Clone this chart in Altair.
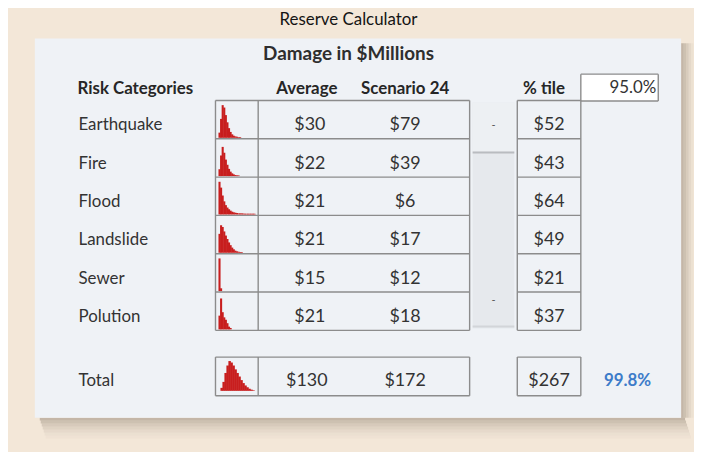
import altair as alt
import pandas as pd

# ---------------- data ----------------
title_text = "Reserve Calculator"
subtitle_text = "Damage in $Millions"
header_labels = ["Risk Categories", "Average", "Scenario 24", "% tile"]
percentile_level = "95.0%"

categories = ["Earthquake", "Fire", "Flood", "Landslide", "Sewer", "Polution"]
average = [30, 22, 21, 21, 15, 21]
scenario = [79, 39, 6, 17, 12, 18]
percentile = [52, 43, 64, 49, 21, 37]

total_label = "Total"
total_average = 130
total_scenario = 172
total_percentile = 267
total_confidence = "99.8%"

# sparkline histograms (relative bar heights)
hist_earthquake = [0.15, 0.55, 0.95, 0.88, 0.66, 0.45, 0.28, 0.17, 0.1, 0.06, 0.04, 0.03, 0.02, 0.02]
hist_fire = [0.2, 0.6, 0.85, 0.68, 0.48, 0.33, 0.21, 0.13, 0.08, 0.05, 0.03, 0.02, 0.02]
hist_flood = [0.95, 0.78, 0.55, 0.38, 0.27, 0.2, 0.15, 0.11, 0.08, 0.06, 0.05, 0.04, 0.03,
              0.03, 0.03, 0.025, 0.02, 0.02, 0.02, 0.02, 0.02, 0.02, 0.02]
hist_landslide = [0.55, 0.8, 0.75, 0.62, 0.5, 0.4, 0.3, 0.22, 0.15, 0.1, 0.06, 0.04, 0.03, 0.02, 0.02]
hist_sewer = [0.95, 0.08]
hist_polution = [0.4, 0.9, 0.5, 0.35, 0.28, 0.18, 0.08, 0.04]
hist_total = [0.1, 0.3, 0.6, 0.85, 1.0, 0.95, 0.85, 0.72, 0.6, 0.48, 0.36, 0.26, 0.18, 0.12, 0.07, 0.04, 0.02]
histograms = [hist_earthquake, hist_fire, hist_flood, hist_landslide, hist_sewer, hist_polution]

# ---------------- layout (page pixel frame) ----------------
W, H = 686, 444
X0, Y0 = 8, 8
ROW_TOP, ROW_H = 99.5, 38.6
TOT_TOP, TOT_BOT = 358, 397
C_SPARK, C_VAL, C_SCROLL, C_PCT, C_END = 217, 260, 473, 521, 585
X_LABEL, X_AVG, X_SCN, X_PCT = 79, 312, 408, 553
FONT = "Lato"
TXT = "#333333"
LINE = "#8c8c8c"
RED = "#c81e1e"
BEIGE = "#f3e7d8"
PANEL = "#eff2f6"

xs = alt.Scale(domain=[X0, X0 + W], nice=False, zero=False)
ys = alt.Scale(domain=[Y0, Y0 + H], nice=False, zero=False, reverse=True)

# ---- rectangles (shadows, panel, boxes) ----
rects = []
def rect(x, x2, y, y2, fill, op=1.0):
    rects.append(dict(x=x, x2=x2, y=y, y2=y2, fill=fill, op=op))

shadow = "#7d6f60"
for i, op in enumerate([0.40, 0.32, 0.24, 0.17, 0.11, 0.06, 0.03]):
    rect(40 + i, 690 + i, 419 + 3 * i, 422 + 3 * i, shadow, op)
for i, op in enumerate([0.40, 0.32, 0.22, 0.12, 0.05]):
    rect(686 + 2.5 * i, 688.5 + 2.5 * i, 42, 419, shadow, op)
rect(35, 686, 37, 419, PANEL)
# percentile input box
rect(585, 663, 73, 100, "#ffffff")
# scrollbar
rect(C_SCROLL + 3, C_PCT - 3, ROW_TOP + 2, ROW_TOP + 6 * ROW_H - 2, "#e6e9ed")
rect(C_SCROLL + 3, C_PCT - 3, ROW_TOP + 2, 151, "#edf0f3")

rect_df = pd.DataFrame(rects)
rect_layer = alt.Chart(rect_df).mark_rect().encode(
    x=alt.X("x:Q", scale=xs, axis=None), x2="x2:Q",
    y=alt.Y("y:Q", scale=ys, axis=None), y2="y2:Q",
    color=alt.Color("fill:N", scale=None),
    opacity=alt.Opacity("op:Q", scale=None),
)

# ---- histogram sparklines ----
bars = []
row_bottoms = [ROW_TOP + (i + 1) * ROW_H for i in range(6)]
BW = 1.6
for hist, bot in zip(histograms, row_bottoms):
    for j, h in enumerate(hist):
        bars.append(dict(x=220 + j * BW, x2=220 + (j + 1) * BW + 0.5,
                         y=bot - 1 - h * (ROW_H - 4), y2=bot - 1))
BWT = 2.0
for j, h in enumerate(hist_total):
    bars.append(dict(x=222 + j * BWT, x2=222 + (j + 1) * BWT + 0.5,
                     y=TOT_BOT - 5 - h * 30, y2=TOT_BOT - 5))
bar_layer = alt.Chart(pd.DataFrame(bars)).mark_rect(color=RED, strokeWidth=0).encode(
    x=alt.X("x:Q", scale=xs, axis=None), x2="x2:Q",
    y=alt.Y("y:Q", scale=ys, axis=None), y2="y2:Q",
)

# ---- grid lines ----
lines = []
def line(x, x2, y, y2, col=LINE, w=1.4):
    lines.append(dict(x=x, x2=x2, y=y, y2=y2, col=col, w=w))

ROW_BOT = ROW_TOP + 6 * ROW_H
for i in range(7):
    yy = ROW_TOP + i * ROW_H
    line(C_SPARK, C_SCROLL, yy, yy)
    line(C_PCT, C_END, yy, yy)
for xx in [C_SPARK, C_VAL, C_SCROLL, C_PCT, C_END]:
    line(xx, xx, ROW_TOP, ROW_BOT)
line(C_SCROLL + 3, C_PCT - 3, 152, 152, "#b9bcc0", 2)
line(C_SCROLL + 3, C_PCT - 3, ROW_BOT - 4, ROW_BOT - 4, "#d2d5d9", 2)
# percentile input box
line(585, 663, 73, 73); line(585, 663, 100, 100); line(663, 663, 73, 100); line(585, 585, 73, 100)
# total boxes
line(C_SPARK, C_SCROLL, TOT_TOP, TOT_TOP); line(C_SPARK, C_SCROLL, TOT_BOT, TOT_BOT)
for xx in [C_SPARK, C_VAL, C_SCROLL]:
    line(xx, xx, TOT_TOP, TOT_BOT)
line(C_PCT, C_END, TOT_TOP, TOT_TOP); line(C_PCT, C_END, TOT_BOT, TOT_BOT)
line(C_PCT, C_PCT, TOT_TOP, TOT_BOT); line(C_END, C_END, TOT_TOP, TOT_BOT)

line_df = pd.DataFrame(lines)
line_layer = alt.Chart(line_df).mark_rule().encode(
    x=alt.X("x:Q", scale=xs, axis=None), x2="x2:Q",
    y=alt.Y("y:Q", scale=ys, axis=None), y2="y2:Q",
    color=alt.Color("col:N", scale=None),
    strokeWidth=alt.StrokeWidth("w:Q", scale=None),
)

# ---- texts ----
def text_layer(items, size, weight="normal", align="center", color=TXT, font=FONT):
    df = pd.DataFrame(items, columns=["x", "y", "label"])
    return alt.Chart(df).mark_text(
        font=font, fontSize=size, fontWeight=weight, align=align, baseline="middle", color=color
    ).encode(
        x=alt.X("x:Q", scale=xs, axis=None),
        y=alt.Y("y:Q", scale=ys, axis=None),
        text="label:N",
    )

row_text_y = [ROW_TOP + i * ROW_H + 25 for i in range(6)]
TOT_Y = 382

title_layer = text_layer([(351, 19, title_text)], 17, color="#141414")
sub_layer = text_layer([(351, 53, subtitle_text)], 19, "bold", color="#2e2e2e")
hdr_left = text_layer([(78, 88, header_labels[0])], 17, "bold", "left", "#262626")
hdr_center = text_layer([(309, 88, header_labels[1]), (408, 88, header_labels[2]),
                         (548, 88, header_labels[3])], 17, "bold", "center", "#262626")
pct_level_layer = text_layer([(661, 87, percentile_level)], 17, "normal", "right")
labels_layer = text_layer([(X_LABEL, y, c) for c, y in zip(categories, row_text_y)]
                          + [(X_LABEL, TOT_Y, total_label)], 17, "normal", "left")
values = []
for a, s, p, y in zip(average, scenario, percentile, row_text_y):
    values += [(X_AVG, y, f"${a}"), (X_SCN, y, f"${s}"), (X_PCT, y, f"${p}")]
values += [(X_AVG - 3, TOT_Y, f"${total_average}"), (X_SCN, TOT_Y, f"${total_scenario}"),
           (X_PCT, TOT_Y, f"${total_percentile}")]
values_layer = text_layer(values, 18, "normal", "center")
conf_layer = text_layer([(632, TOT_Y, total_confidence)], 17, "bold", "center", "#3d7cc9")
arrows_layer = text_layer([(497, 125, "-"), (497, 302, "-")], 11, "normal", "center", "#555555")

chart = alt.layer(
    rect_layer, line_layer, bar_layer, title_layer, sub_layer, hdr_left, hdr_center,
    pct_level_layer, labels_layer, values_layer, conf_layer, arrows_layer,
).properties(
    width=W, height=H, padding=0, background=BEIGE
).configure_view(stroke=None)

chart.save("out.html", embed_options={"renderer": "svg", "actions": False})
